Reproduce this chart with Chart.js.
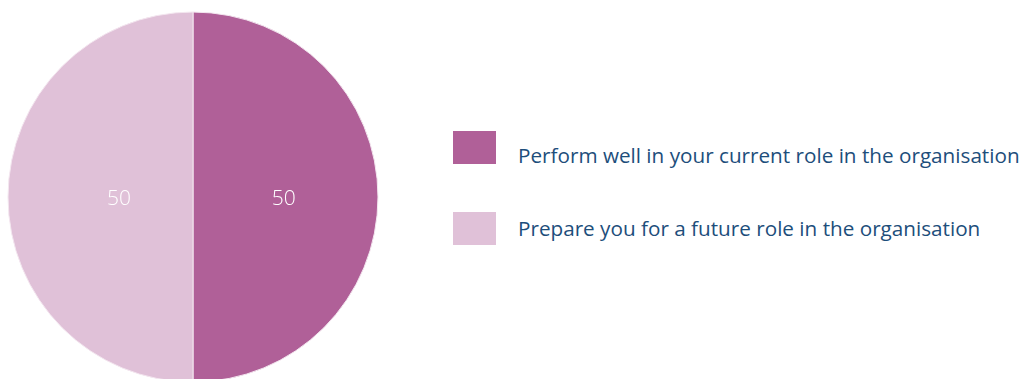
<!DOCTYPE html>
<html lang="en">
<head>
    <meta charset="UTF-8">
    <script src="https://cdn.jsdelivr.net/npm/chart.js"></script>
    <title>Training purpose</title>
    <style>
        body {
            margin: 0;
            background: #fff;
            width: 1027px;
            height: 379px;
            overflow: hidden;
            position: relative;
            font-family: 'Open Sans', sans-serif;
        }
        .pie-wrap {
            position: absolute;
            left: 0;
            top: 0;
            width: 386px;
            height: 394px;
        }
        .legend {
            position: absolute;
            left: 453px;
            top: 131px;
        }
        .legend-item {
            display: flex;
            align-items: center;
            height: 33px;
            margin-bottom: 48px;
        }
        .legend-item span.box {
            width: 43px;
            height: 33px;
            margin-right: 22px;
        }
        .legend-item span.txt {
            color: #1d4e7b;
            font-size: 20.7px;
            white-space: nowrap;
            position: relative;
            top: 7px;
        }
        .legend-item:nth-child(2) span.txt {
            top: -0.5px;
        }
    </style>
</head>
<body>
    <div class="pie-wrap">
        <canvas id="myChart" width="386" height="394"></canvas>
    </div>
    <div id="legend" class="legend"></div>

    <script>
        const labels = ['Perform well in your current role in the organisation', 'Prepare you for a future role in the organisation'];
        const values = [50, 50];
        const colors = ['#b06098', '#e0c1d8'];

        // value labels, drawn inside each slice
        const labelFactor = [0.49, 0.4];
        const sliceLabels = {
            id: 'sliceLabels',
            afterDatasetsDraw(chart) {
                const ctx = chart.ctx;
                const meta = chart.getDatasetMeta(0);
                ctx.save();
                ctx.fillStyle = '#ffffff';
                ctx.font = '300 21px "Open Sans"';
                ctx.textAlign = 'center';
                ctx.textBaseline = 'middle';
                meta.data.forEach((arc, i) => {
                    const mid = (arc.startAngle + arc.endAngle) / 2;
                    const r = arc.outerRadius * labelFactor[i];
                    ctx.fillText(values[i], arc.x + Math.cos(mid) * r, arc.y + Math.sin(mid) * r + 2);
                });
                ctx.restore();
            }
        };

        new Chart(document.getElementById('myChart'), {
            type: 'pie',
            data: {
                labels: labels,
                datasets: [{
                    data: values,
                    backgroundColor: colors,
                    borderColor: '#f3e6ef',
                    borderWidth: 1
                }]
            },
            options: {
                responsive: false,
                animation: false,
                radius: 185,
                plugins: {
                    legend: { display: false },
                    tooltip: { enabled: false }
                }
            },
            plugins: [sliceLabels]
        });

        const legendEl = document.getElementById('legend');
        labels.forEach((l, i) => {
            legendEl.innerHTML += `
                <div class="legend-item">
                    <span class="box" style="background:${colors[i]}"></span>
                    <span class="txt">${l}</span>
                </div>`;
        });
    </script>
</body>
</html>
